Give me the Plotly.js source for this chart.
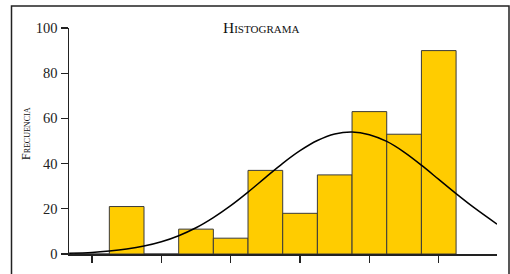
<!DOCTYPE html>
<html>
<head>
<meta charset="utf-8">
<script src="https://cdn.plot.ly/plotly-3.0.1.min.js"></script>
<style>html,body{margin:0;padding:0;background:#fff;}#chart{width:510px;height:274px;}</style>
</head>
<body>
<div id="chart"></div>
<script>
// Histogram bins (bin index) and frequencies
var binCenters = [0, 1, 2, 3, 4, 5, 6, 7, 8, 9, 10];
var frequencies = [0, 21, 0, 11, 7, 37, 18, 35, 63, 53, 90];
// Fitted curve
var curveX = [-0.66, 0, 0.5, 1, 1.5, 2, 2.5, 3, 3.5, 4, 4.5, 5, 5.5, 6, 6.5, 7, 7.5, 8, 8.5, 9, 9.5, 10, 10.5, 11, 11.68];
var curveY = [0.35, 0.7, 1.3, 2.2, 3.5, 5.4, 8.1, 11.6, 16.1, 21.4, 27.4, 33.8, 40.1, 45.7, 50.2, 53.1, 54, 52.8, 49.8, 45.1, 39.3, 33.0, 26.7, 20.7, 13.2];
var yTicks = [0, 20, 40, 60, 80, 100];
var xTicks = [0, 2, 4, 6, 8, 10];
var titleText = "Histograma";
var yTitleText = "Frecuencia";

var serif = "Liberation Serif, Times New Roman, serif";
var data = [
  {
    type: "bar", x: binCenters, y: frequencies, width: 1,
    marker: {color: "#FFCC00", line: {color: "#3a3a3a", width: 1}},
    hoverinfo: "none"
  },
  {
    type: "scatter", mode: "lines", x: curveX, y: curveY,
    line: {color: "#000", width: 1.5, shape: "spline"},
    hoverinfo: "none"
  }
];
var layout = {
  width: 510, height: 274,
  margin: {l: 69, r: 13, t: 27.5, b: 19.5},
  paper_bgcolor: "#fff", plot_bgcolor: "#fff",
  showlegend: false,
  bargap: 0,
  xaxis: {
    range: [-0.663, 11.68], tickvals: xTicks, showticklabels: false,
    ticks: "outside", ticklen: 7, tickwidth: 1.3, tickcolor: "#222",
    showline: true, linecolor: "#222", linewidth: 1.5,
    showgrid: false, zeroline: false, fixedrange: true
  },
  yaxis: {
    range: [0, 100], tickvals: yTicks,
    ticks: "outside", ticklen: 7, tickwidth: 1.3, tickcolor: "#222",
    showline: true, linecolor: "#222", linewidth: 1.5,
    showgrid: false, zeroline: false, fixedrange: true,
    tickfont: {family: serif, size: 14.5, color: "#222"}
  },
  annotations: [
    {
      text: titleText, xref: "paper", yref: "paper",
      x: (261 - 69) / 428, y: (254.5 - 27) / 227,
      xanchor: "center", yanchor: "middle", showarrow: false,
      font: {family: serif, size: 15.5, color: "#111", variant: "small-caps"}
    },
    {
      text: yTitleText, xref: "paper", yref: "paper",
      x: (26 - 69) / 428, y: (254.5 - 134) / 227, textangle: -90,
      xanchor: "center", yanchor: "middle", showarrow: false,
      font: {family: serif, size: 12, color: "#111", variant: "small-caps"}
    }
  ],
  shapes: [
    {
      type: "rect", xref: "paper", yref: "paper",
      x0: (11.5 - 69) / 428, x1: (509 - 69) / 428,
      y0: (254.5 - 280) / 227, y1: (254.5 - 5.5) / 227,
      line: {color: "#222", width: 1.5}, fillcolor: "rgba(0,0,0,0)"
    }
  ]
};
Plotly.newPlot("chart", data, layout, {displayModeBar: false, staticPlot: true});
</script>
</body>
</html>
